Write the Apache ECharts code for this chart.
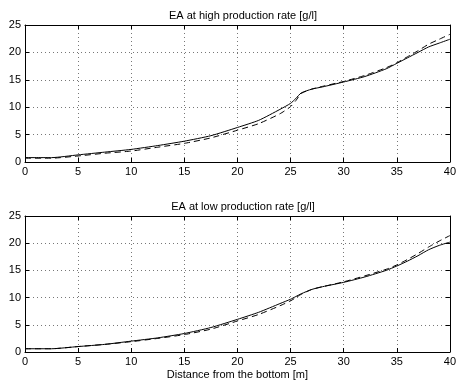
<!DOCTYPE html>
<html>
<head>
<meta charset="utf-8">
<script src="https://cdn.jsdelivr.net/npm/echarts@6/dist/echarts.min.js"></script>
<style>
  html, body { margin: 0; padding: 0; background: #fff; }
  #chart { width: 459px; height: 384px; }
</style>
</head>
<body>
<div id="chart"></div>
<script>
// distance from the bottom [m]
const distance = [0, 2.5, 5, 7.5, 10, 12.5, 15, 17.5, 20, 22, 24, 25, 25.5, 26, 27, 28, 30, 32, 34, 35, 36, 37, 38, 39, 40];

// EA at high production rate [g/l]
const highSolid  = [0.8, 0.8, 1.3, 1.8, 2.3, 3.0, 3.8, 4.8, 6.3, 7.6, 9.6, 10.7, 11.6, 12.6, 13.3, 13.7, 14.6, 15.6, 17.0, 18.0, 19.0, 20.0, 21.0, 21.7, 22.4];
const highDashed = [0.7, 0.7, 1.1, 1.6, 2.0, 2.7, 3.4, 4.4, 5.8, 7.0, 8.8, 10.1, 11.2, 12.5, 13.3, 13.8, 14.7, 15.8, 17.2, 18.1, 19.2, 20.3, 21.5, 22.4, 23.3];

// EA at low production rate [g/l]
const lowSolid  = [0.6, 0.6, 1.0, 1.4, 2.0, 2.6, 3.4, 4.5, 6.0, 7.3, 8.9, 9.7, 10.2, 10.7, 11.5, 12.0, 12.8, 13.8, 15.0, 15.8, 16.7, 17.7, 18.8, 19.6, 20.2];
const lowDashed = [0.6, 0.6, 1.0, 1.4, 1.9, 2.5, 3.2, 4.2, 5.7, 6.9, 8.5, 9.4, 10.0, 10.6, 11.5, 12.0, 12.9, 14.0, 15.2, 16.0, 17.0, 18.1, 19.3, 20.4, 21.4];

const titles = ['EA at high production rate [g/l]', 'EA at low production rate [g/l]'];
const xLabel = 'Distance from the bottom [m]';

const pairs = (ys) => distance.map((x, i) => [x, ys[i]]);

const font = 'Liberation Sans, Arial, sans-serif';
const chart = echarts.init(document.getElementById('chart'), null, { renderer: 'canvas' });

const grids = [
    { left: 25, right: 8, top: 25, height: 137 },
    { left: 25, right: 8, top: 216, height: 136 },
];

const xAxes = [];
const yAxes = [];
[0, 1].forEach((g) => {
    // bottom x axis with labels
    xAxes.push({
        type: 'value', gridIndex: g, min: 0, max: 40, interval: 5, position: 'bottom',
        axisLine: { lineStyle: { color: '#000', width: 1 } },
        axisTick: { inside: true, length: 4, lineStyle: { color: '#000' } },
        axisLabel: { color: '#000', fontFamily: font, fontSize: 11, margin: 4 },
        splitLine: { show: true, lineStyle: { color: '#777', type: [1, 3], width: 1 } },
        name: g === 1 ? xLabel : '', nameLocation: 'middle', nameGap: 17,
        nameTextStyle: { color: '#000', fontFamily: font, fontSize: 11 },
    });
    // top frame
    xAxes.push({
        type: 'value', gridIndex: g, min: 0, max: 40, interval: 5, position: 'top',
        axisLine: { onZero: false, lineStyle: { color: '#000', width: 1 } },
        axisTick: { inside: true, length: 4, lineStyle: { color: '#000' } },
        axisLabel: { show: false }, splitLine: { show: false },
    });
    yAxes.push({
        type: 'value', gridIndex: g, min: 0, max: 25, interval: 5, position: 'left',
        axisLine: { show: true, onZero: false, lineStyle: { color: '#000', width: 1 } },
        axisTick: { show: true, inside: true, length: 4, lineStyle: { color: '#000' } },
        axisLabel: { color: '#000', fontFamily: font, fontSize: 11, margin: 4 },
        splitLine: { show: true, lineStyle: { color: '#777', type: [1, 3], width: 1 } },
    });
    yAxes.push({
        type: 'value', gridIndex: g, min: 0, max: 25, interval: 5, position: 'right',
        axisLine: { show: true, onZero: false, lineStyle: { color: '#000', width: 1 } },
        axisTick: { show: true, inside: true, length: 4, lineStyle: { color: '#000' } },
        axisLabel: { show: false }, splitLine: { show: false },
    });
});

const line = (g, ys, dashed) => ({
    type: 'line', xAxisIndex: g * 2, yAxisIndex: g * 2, data: pairs(ys),
    showSymbol: false, smooth: 0.2, animation: false,
    lineStyle: { color: '#000', width: 1, type: dashed ? [6, 4] : 'solid' },
});

chart.setOption({
    animation: false,
    title: [
        { text: titles[0], left: 238, top: 5, textAlign: 'center',
          textStyle: { fontFamily: font, fontSize: 11, fontWeight: 'normal', color: '#000' } },
        { text: titles[1], left: 238, top: 196, textAlign: 'center',
          textStyle: { fontFamily: font, fontSize: 11, fontWeight: 'normal', color: '#000' } },
    ],
    grid: grids,
    xAxis: xAxes,
    yAxis: yAxes,
    series: [
        line(0, highSolid, false),
        line(0, highDashed, true),
        line(1, lowSolid, false),
        line(1, lowDashed, true),
    ],
});
</script>
</body>
</html>
